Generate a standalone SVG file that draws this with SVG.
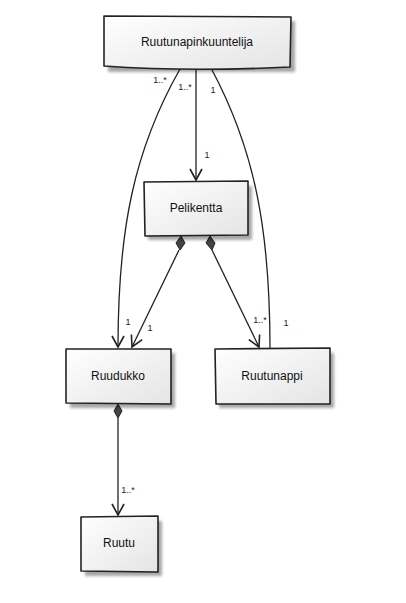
<svg xmlns="http://www.w3.org/2000/svg" width="406" height="603" viewBox="0 0 406 603">
  <defs>
    <linearGradient id="boxFill" x1="0" y1="0" x2="1" y2="1">
      <stop offset="0" stop-color="#ffffff"/>
      <stop offset="1" stop-color="#e4e4e4"/>
    </linearGradient>
    <filter id="soft" x="-10%" y="-10%" width="130%" height="140%">
      <feGaussianBlur stdDeviation="1.5"/>
    </filter>
    <marker id="openArrow" viewBox="0 0 14 14" refX="12" refY="7" markerWidth="14" markerHeight="14" markerUnits="userSpaceOnUse" orient="auto">
      <path d="M1,1 L12,7 L1,13" fill="none" stroke="#222" stroke-width="1.6" stroke-linejoin="miter"/>
    </marker>
  </defs>
  <style>
    .box { fill: url(#boxFill); stroke: #222; stroke-width: 1.6; stroke-linejoin: round; }
    .shadow { fill: #000; opacity: 0.35; filter: url(#soft); }
    .name { font-family: "Liberation Sans", Arial, sans-serif; font-size: 12px; fill: #111; text-anchor: middle; dominant-baseline: central; }
    .edge { fill: none; stroke: #222; stroke-width: 1.3; }
    .diamond { fill: #444; stroke: #222; stroke-width: 1; }
    .mult { font-family: "Liberation Sans", Arial, sans-serif; font-size: 9px; fill: #222; text-anchor: middle; dominant-baseline: central; }
  </style>

  <rect width="406" height="603" fill="#ffffff"/>

  <!-- associations and compositions -->
  <g id="connectors">
    <path class="edge" d="M180,69 C134,150 118,230 118,347" marker-end="url(#openArrow)"/>
    <path class="edge" d="M196,68 L196,180" marker-end="url(#openArrow)"/>
    <path class="edge" d="M211,68 C255,150 270,230 270,349"/>
    <path class="diamond" d="M181,236 L185,243 L180,250 L176,243 Z"/>
    <path class="edge" d="M179,250 L132,347" marker-end="url(#openArrow)"/>
    <path class="diamond" d="M210,236 L215,243 L212,250 L206,243 Z"/>
    <path class="edge" d="M212,250 L259,347" marker-end="url(#openArrow)"/>
    <path class="diamond" d="M118,404 L122,411 L118,418 L114,411 Z"/>
    <path class="edge" d="M118,418 L118,515" marker-end="url(#openArrow)"/>
    <text class="mult" x="160" y="80">1..*</text>
    <text class="mult" x="185" y="87">1..*</text>
    <text class="mult" x="213" y="90">1</text>
    <text class="mult" x="207" y="155">1</text>
    <text class="mult" x="128" y="322">1</text>
    <text class="mult" x="150" y="328">1</text>
    <text class="mult" x="260" y="320">1..*</text>
    <text class="mult" x="286" y="323">1</text>
    <text class="mult" x="128" y="490">1..*</text>
  </g>

  <g id="ruutunapinkuuntelija">
    <rect class="shadow" x="108" y="21" width="187" height="51"/>
    <path class="box" d="M104,16 L291,17 L290,67 C230,70 160,70 104,66 Z"/>
    <text class="name" x="197" y="42">Ruutunapinkuuntelija</text>
  </g>

  <g id="pelikentta">
    <rect class="shadow" x="148" y="186" width="104" height="54"/>
    <path class="box" d="M144,182 L248,181 L248,235 L145,236 Z"/>
    <text class="name" x="196" y="208">Pelikentta</text>
  </g>

  <g id="ruudukko">
    <rect class="shadow" x="70" y="353" width="105" height="55"/>
    <path class="box" d="M66,349 L171,349 L171,404 L66,403 Z"/>
    <text class="name" x="118" y="376">Ruudukko</text>
  </g>

  <g id="ruutunappi">
    <rect class="shadow" x="219" y="353" width="115" height="55"/>
    <path class="box" d="M215,349 L330,348 L330,404 L216,404 Z"/>
    <text class="name" x="272" y="376">Ruutunappi</text>
  </g>

  <g id="ruutu">
    <rect class="shadow" x="85" y="521" width="77" height="55"/>
    <path class="box" d="M81,517 L158,516 L158,572 L81,571 Z"/>
    <text class="name" x="119" y="543">Ruutu</text>
  </g>
</svg>
